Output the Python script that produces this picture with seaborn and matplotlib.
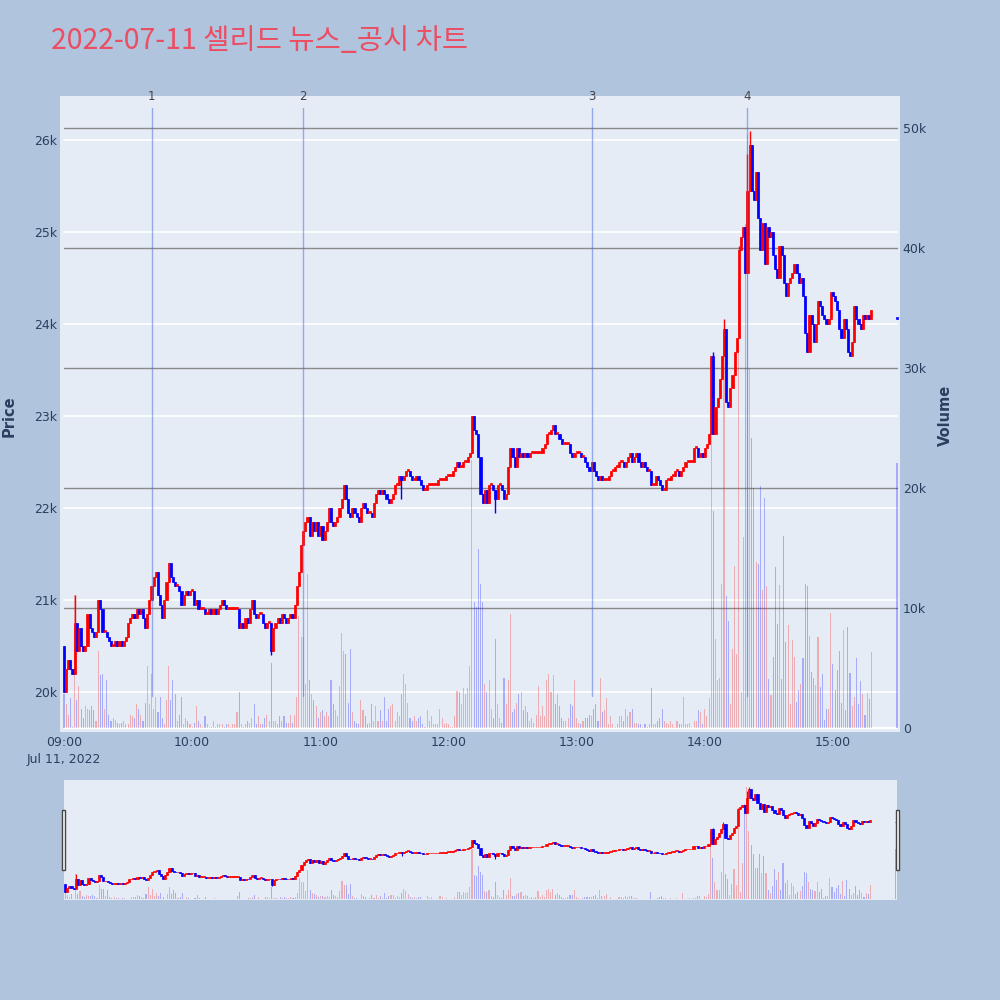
import matplotlib
matplotlib.use("Agg")
import matplotlib.pyplot as plt
import matplotlib.transforms as mtransforms
from matplotlib.patches import Rectangle
import pandas as pd
import seaborn as sns

TITLE = "2022-07-11 셀리드 뉴스_공시 차트"

# 1-minute closes from 09:00 (minute 0) to 15:18
first_open = 20500
closes = [
    20000, 20250, 20350, 20250, 20200, 20750, 20450, 20700, 20500, 20450,
    20500, 20850, 20700, 20650, 20600, 20650, 21000, 20900, 20650, 20650,
    20600, 20550, 20500, 20500, 20550, 20500, 20550, 20500, 20550, 20600,
    20750, 20800, 20850, 20800, 20900, 20850, 20900, 20800, 20700, 20850,
    21000, 21150, 21250, 21300, 21050, 20950, 20800, 21000, 21200, 21400,
    21250, 21200, 21150, 21150, 21100, 20950, 21050, 21100, 21050, 21100,
    21100, 20950, 21000, 20900, 20900, 20900, 20850, 20850, 20900, 20850,
    20900, 20850, 20900, 20950, 21000, 20950, 20900, 20900, 20900, 20900,
    20900, 20900, 20700, 20750, 20700, 20800, 20750, 20900, 21000, 20850,
    20800, 20850, 20850, 20750, 20700, 20750, 20750, 20450, 20700, 20750,
    20800, 20750, 20850, 20800, 20750, 20800, 20850, 20800, 20950, 21150,
    21300, 21600, 21750, 21850, 21900, 21700, 21850, 21750, 21850, 21700,
    21800, 21650, 21750, 21850, 22000, 21850, 21800, 21850, 21900, 22000,
    22100, 22250, 22100, 21950, 21900, 22000, 21950, 21900, 21850, 22000,
    22050, 22000, 21950, 21950, 21900, 22050, 22150, 22200, 22150, 22200,
    22150, 22100, 22050, 22100, 22150, 22250, 22250, 22350, 22300, 22350,
    22400, 22400, 22350, 22300, 22300, 22350, 22300, 22250, 22200, 22200,
    22250, 22250, 22250, 22250, 22250, 22300, 22300, 22300, 22300, 22350,
    22350, 22350, 22400, 22450, 22500, 22450, 22450, 22500, 22500, 22550,
    22600, 23000, 22850, 22800, 22550, 22150, 22050, 22200, 22050, 22250,
    22250, 22200, 22100, 22250, 22250, 22200, 22100, 22150, 22450, 22650,
    22550, 22450, 22650, 22550, 22600, 22550, 22600, 22550, 22600, 22600,
    22600, 22600, 22600, 22600, 22650, 22700, 22800, 22800, 22850, 22900,
    22800, 22800, 22750, 22700, 22700, 22700, 22700, 22600, 22550, 22600,
    22600, 22600, 22550, 22550, 22500, 22450, 22400, 22500, 22400, 22350,
    22300, 22350, 22300, 22300, 22300, 22350, 22400, 22400, 22450, 22450,
    22500, 22500, 22450, 22500, 22550, 22600, 22500, 22550, 22600, 22500,
    22450, 22500, 22450, 22400, 22400, 22250, 22250, 22350, 22300, 22250,
    22200, 22200, 22300, 22300, 22350, 22350, 22400, 22400, 22350, 22400,
    22450, 22500, 22500, 22500, 22500, 22650, 22650, 22550, 22600, 22550,
    22650, 22700, 22800, 23650, 22800, 23100, 23200, 23400, 23650, 23950,
    23150, 23100, 23300, 23450, 23700, 23850, 24800, 24950, 25050, 24550,
    25450, 25950, 25450, 25350, 25650, 25150, 24800, 25100, 24650, 25050,
    24950, 25000, 24750, 24600, 24500, 24850, 24750, 24450, 24300, 24450,
    24500, 24550, 24650, 24550, 24450, 24500, 24300, 23900, 23700, 24100,
    24000, 23800, 24000, 24250, 24200, 24100, 24050, 24000, 24050, 24350,
    24300, 24250, 24150, 23950, 23850, 24050, 23950, 23700, 23650, 23800,
    24200, 24050, 24000, 23950, 24100, 24050, 24100, 24050, 24150,
]
volumes = [
    2800, 2000, 1100, 2500, 100, 11100, 2300, 3500, 1600, 800,
    1800, 1600, 1500, 1800, 1500, 600, 6400, 4400, 4500, 1600,
    4000, 1100, 600, 800, 700, 400, 300, 400, 600, 300,
    300, 1100, 1000, 800, 2000, 1600, 1100, 600, 2100, 5200,
    2000, 4500, 1600, 2600, 1300, 2600, 800, 300, 2300, 5200,
    2300, 4000, 2800, 600, 1100, 2600, 300, 800, 600, 300,
    100, 400, 1800, 600, 300, 100, 1000, 300, 100, 100,
    600, 100, 300, 300, 300, 100, 300, 300, 100, 300,
    300, 1300, 3000, 300, 100, 300, 600, 400, 800, 2000,
    300, 1000, 300, 300, 800, 1100, 600, 5400, 600, 600,
    300, 1000, 600, 1000, 400, 400, 1100, 400, 1100, 2600,
    9300, 7600, 7600, 3700, 12800, 4000, 2800, 2300, 1800, 800,
    1300, 1500, 1000, 1300, 1000, 4000, 2000, 1500, 1000, 3500,
    7900, 6400, 6200, 2100, 6600, 1300, 600, 400, 300, 2300,
    1500, 1000, 300, 400, 2000, 600, 1800, 600, 1500, 600,
    2600, 600, 1600, 1800, 2000, 600, 1300, 1000, 2800, 4500,
    3700, 2100, 800, 600, 1000, 600, 800, 1000, 300, 100,
    1500, 600, 1000, 300, 300, 300, 1600, 800, 300, 400,
    300, 100, 100, 1000, 3100, 3000, 2000, 3300, 2800, 3300,
    5200, 22300, 10500, 10100, 14900, 12000, 10500, 3700, 3000, 4000,
    1600, 800, 7400, 2000, 800, 400, 4200, 2000, 4000, 9500,
    1300, 1600, 2100, 2800, 3000, 1500, 1800, 1300, 600, 800,
    400, 1100, 3500, 1000, 1800, 1000, 4000, 4500, 3000, 4400,
    2000, 2800, 1800, 800, 600, 600, 800, 2000, 1800, 4000,
    800, 400, 300, 600, 800, 800, 1100, 1000, 1600, 2000,
    600, 4200, 1300, 1500, 2500, 300, 1000, 300, 100, 300,
    1000, 1000, 600, 1600, 1000, 1300, 1600, 400, 400, 300,
    300, 100, 300, 100, 300, 3300, 300, 300, 600, 800,
    1600, 600, 400, 300, 600, 300, 100, 600, 300, 300,
    2600, 300, 300, 400, 100, 600, 600, 1500, 1300, 300,
    1600, 1000, 2500, 29000, 18100, 7400, 4000, 4200, 12000, 33000,
    11000, 8900, 2000, 6600, 13500, 6200, 37000, 3000, 15900, 42000,
    49500, 30000, 24150, 20000, 13800, 13700, 20200, 11500, 19200, 11800,
    4100, 2750, 5900, 13450, 8700, 11900, 4100, 16000, 7200, 8600,
    2000, 7300, 5900, 2200, 3200, 3700, 5800, 12000, 11800, 7700,
    4700, 4200, 3600, 7600, 3400, 4500, 700, 1600, 1600, 9600,
    5300, 3200, 4800, 6400, 2100, 8200, 1500, 8400, 4600, 1800,
    2600, 5800, 2000, 3900, 2800, 1100, 2900, 2400, 6300,
]
wick_high = {5: 21050, 304: 23700, 309: 24050, 316: 24850, 320: 25850, 321: 26100}
wick_low = {97: 20400, 158: 22100, 202: 21950}

# closing auction print at 15:30
auction_minute = 390
auction_price = 24050
auction_volume = 22100

event_minutes = [41, 112, 247, 320]
event_labels = ["1", "2", "3", "4"]

price_ticks = [20000, 21000, 22000, 23000, 24000, 25000, 26000]
price_labels = ["20k", "21k", "22k", "23k", "24k", "25k", "26k"]
volume_ticks = [0, 10000, 20000, 30000, 40000, 50000]
volume_labels = ["0", "10k", "20k", "30k", "40k", "50k"]
time_ticks = [0, 60, 120, 180, 240, 300, 360]
time_labels = ["09:00\nJul 11, 2022", "10:00", "11:00", "12:00", "13:00", "14:00", "15:00"]

PRICE_LIM = (19565, 26478)
VOL_LIM = (-333, 52667)
BG = "#B0C4DE"
PLOT_BG = "#E5ECF6"
TXT = "#2a3f5f"
UP, DOWN = "#FF0000", "#0000FF"


def build_frame():
    opens = [first_open] + closes[:-1]
    df = pd.DataFrame({
        "minute": list(range(len(closes))),
        "open": opens,
        "close": closes,
        "volume": volumes,
    })
    df.loc[len(df)] = [auction_minute, auction_price, auction_price, auction_volume]
    df["minute"] = df["minute"].astype(int)
    df["high"] = df[["open", "close"]].max(axis=1)
    df["low"] = df[["open", "close"]].min(axis=1)
    for m, v in wick_high.items():
        df.loc[df["minute"] == m, "high"] = v
    for m, v in wick_low.items():
        df.loc[df["minute"] == m, "low"] = v
    prev = df["close"].shift(1).fillna(first_open)
    up = (df["close"] > df["open"]) | ((df["close"] == df["open"]) & (df["close"] >= prev))
    df["direction"] = up.map({True: "up", False: "down"})
    return df


def draw_volume(ax, df, shrink):
    sns.histplot(
        data=df, x="minute", weights="volume", hue="direction",
        hue_order=["up", "down"], palette={"up": UP, "down": DOWN},
        discrete=True, shrink=shrink, alpha=0.27, linewidth=0,
        legend=False, ax=ax,
    )


def draw_candles(ax, df, width, lw):
    colors = df["direction"].map({"up": UP, "down": DOWN})
    body_lo = df[["open", "close"]].min(axis=1)
    body_h = (df["close"] - df["open"]).abs().clip(lower=22)
    ax.vlines(df["minute"], df["low"], df["high"], colors=colors, lw=lw, zorder=3)
    ax.bar(df["minute"], body_h, bottom=body_lo, width=width, color=colors,
           edgecolor=colors, linewidth=0.5, zorder=4)


def main():
    sns.set_theme(style="white", rc={"axes.facecolor": PLOT_BG, "figure.facecolor": BG})
    plt.rcParams["font.family"] = ["DejaVu Sans", "Noto Sans CJK KR"]

    df = build_frame()

    fig = plt.figure(figsize=(10, 10), dpi=100, facecolor=BG)

    # --- main panel: volume on the base axes, price on the twin (drawn on top)
    ax_vol = fig.add_axes([0.06, 0.268, 0.84, 0.636])
    ax_vol.set_facecolor(PLOT_BG)
    draw_volume(ax_vol, df, shrink=0.5)
    ax_price = ax_vol.twinx()

    gx0, gx1 = 4 / 840, 837 / 840
    for v in volume_ticks[1:]:
        ax_vol.axhline(v, xmin=gx0, xmax=gx1, color="#8a8a8a", lw=1, zorder=0.6)
    ax_vol.axhline(0, xmin=gx0, xmax=gx1, color="white", lw=1.5, zorder=0.6)
    trans = mtransforms.blended_transform_factory(ax_vol.transAxes, ax_price.transData)
    for p in price_ticks:
        ax_vol.plot([gx0, gx1], [p, p], transform=trans, color="white", lw=1.2, zorder=0.5)

    draw_candles(ax_price, df, width=1.0, lw=1.0)

    ev_trans = mtransforms.blended_transform_factory(ax_price.transData, ax_price.transAxes)
    for m, lab in zip(event_minutes, event_labels):
        ax_price.axvline(m, ymin=0.057, ymax=0.981, color="royalblue", alpha=0.5, lw=1, zorder=6)
        ax_price.text(m, 1.0, lab, transform=ev_trans, ha="center", va="center",
                      fontsize=8.5, color="#444444")

    ax_vol.set_xlim(-1.87, 391.4)
    ax_vol.set_ylim(*VOL_LIM)
    ax_price.set_ylim(*PRICE_LIM)

    ax_vol.set_xticks(time_ticks)
    ax_vol.set_xticklabels(time_labels, fontsize=9, color=TXT, linespacing=1.35)
    ax_vol.yaxis.tick_right()
    ax_vol.set_yticks(volume_ticks)
    ax_vol.set_yticklabels(volume_labels, fontsize=9, color=TXT)
    ax_price.yaxis.tick_left()
    ax_price.set_yticks(price_ticks)
    ax_price.set_yticklabels(price_labels, fontsize=9, color=TXT)
    ax_vol.tick_params(axis="x", length=0, pad=3)
    ax_vol.tick_params(axis="y", length=0, pad=2)
    ax_price.tick_params(axis="y", length=0, pad=2)
    ax_vol.set_xlabel("")
    ax_vol.set_ylabel("")
    ax_price.set_ylabel("")
    ax_vol.grid(False)
    ax_price.grid(False)
    for a in (ax_vol, ax_price):
        for s in a.spines.values():
            s.set_visible(False)

    fig.text(0.009, 0.584, "Price", rotation=90, ha="center", va="center",
             fontsize=10.5, fontweight="bold", color=TXT)
    fig.text(0.945, 0.585, "Volume", rotation=90, ha="center", va="center",
             fontsize=10.5, fontweight="bold", color=TXT)
    fig.text(0.051, 0.959, TITLE, ha="left", va="center", fontsize=20.5,
             color="#EB4D63", family=["Noto Sans CJK KR", "DejaVu Sans"])

    # --- range slider
    ax_s = fig.add_axes([0.064, 0.10, 0.833, 0.12])
    ax_s.set_facecolor(PLOT_BG)
    draw_volume(ax_s, df, shrink=0.5)
    ax_sp = ax_s.twinx()
    draw_candles(ax_sp, df, width=1.0, lw=0.8)
    ax_s.set_xlim(-0.5, 390.5)
    ax_s.set_ylim(*VOL_LIM)
    ax_sp.set_ylim(*PRICE_LIM)
    for a in (ax_s, ax_sp):
        a.set_xticks([])
        a.set_yticks([])
        a.set_xlabel("")
        a.set_ylabel("")
        a.grid(False)
        for s in a.spines.values():
            s.set_visible(False)

    for hx in (0.0615, 0.8955):
        fig.add_artist(Rectangle((hx, 0.13), 0.0035, 0.06, transform=fig.transFigure,
                                 facecolor="white", edgecolor="#444444", lw=1, zorder=10))

    fig.savefig("out.png", dpi=100, facecolor=BG)
    plt.close(fig)


if __name__ == "__main__":
    main()
